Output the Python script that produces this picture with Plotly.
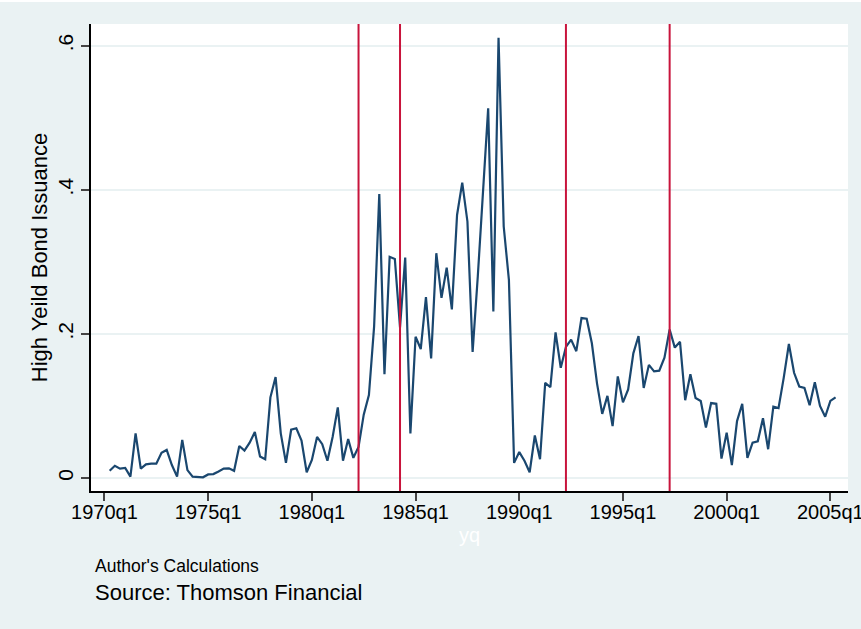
import plotly.graph_objects as go

# High-yield bond issuance share, quarterly, 1970q2 - 2005q2
start_quarter = "1970q2"
issuance = [
    0.010, 0.017, 0.013, 0.014, 0.002, 0.062, 0.013, 0.019, 0.020, 0.020,
    0.035, 0.039, 0.018, 0.002, 0.053, 0.011, 0.002, 0.0015, 0.001, 0.005,
    0.0055, 0.009, 0.013, 0.0135, 0.010, 0.0445, 0.038, 0.049, 0.064, 0.030,
    0.026, 0.112, 0.140, 0.062, 0.021, 0.067, 0.069, 0.052, 0.008, 0.025,
    0.057, 0.047, 0.024, 0.057, 0.098, 0.024, 0.054, 0.028, 0.043, 0.088,
    0.115, 0.210, 0.394, 0.144, 0.307, 0.304, 0.209, 0.306, 0.062, 0.196,
    0.179, 0.251, 0.166, 0.312, 0.250, 0.292, 0.234, 0.365, 0.410, 0.356,
    0.175, 0.280, 0.400, 0.513, 0.231, 0.611, 0.349, 0.275, 0.021, 0.036,
    0.024, 0.008, 0.059, 0.026, 0.132, 0.126, 0.202, 0.153, 0.182, 0.192,
    0.176, 0.222, 0.221, 0.187, 0.131, 0.089, 0.114, 0.072, 0.141, 0.105,
    0.123, 0.173, 0.197, 0.125, 0.157, 0.148, 0.149, 0.167, 0.206, 0.181,
    0.189, 0.108, 0.144, 0.111, 0.107, 0.070, 0.104, 0.103, 0.027, 0.063,
    0.018, 0.079, 0.103, 0.028, 0.049, 0.051, 0.083, 0.040, 0.099, 0.097,
    0.139, 0.186, 0.146, 0.127, 0.125, 0.101, 0.133, 0.100, 0.085, 0.107,
    0.112,
]

# Marked quarters (vertical reference lines)
event_quarters = ["1982q2", "1984q2", "1992q2", "1997q2"]

x_tick_labels = ["1970q1", "1975q1", "1980q1", "1985q1",
                 "1990q1", "1995q1", "2000q1", "2005q1"]
y_tick_values = [0, 0.2, 0.4, 0.6]
y_tick_labels = ["0", ".2", ".4", ".6"]


def quarter_index(label):
    """Quarters elapsed since 1960q1."""
    year, q = label.split("q")
    return (int(year) - 1960) * 4 + int(q) - 1


x0 = quarter_index(start_quarter)
x_vals = [x0 + i for i in range(len(issuance))]

NAVY = "#1A476F"
CRIMSON = "#C8143C"
BG = "#EAF2F3"
FONT = "Liberation Sans, Arial, sans-serif"

fig = go.Figure()
fig.add_trace(go.Scatter(
    x=x_vals, y=issuance, mode="lines",
    line=dict(color=NAVY, width=2.2),
    hoverinfo="skip", showlegend=False,
))

for q in event_quarters:
    fig.add_shape(type="line", xref="x", yref="paper",
                  x0=quarter_index(q), x1=quarter_index(q), y0=0, y1=1,
                  line=dict(color=CRIMSON, width=2), layer="above")

# thin white strip across the top edge
fig.add_shape(type="rect", xref="paper", yref="paper",
              x0=-0.2, x1=1.1, y0=1 + 22 / 467, y1=1.1,
              line=dict(width=0), fillcolor="white", layer="below")

fig.update_layout(
    width=861, height=629,
    margin=dict(l=91, r=13, t=24, b=138, autoexpand=False),
    paper_bgcolor=BG, plot_bgcolor="white",
    font=dict(family=FONT, color="black"),
    showlegend=False,
    xaxis=dict(
        range=[37.4, 183.4],
        automargin=False,
        tickvals=[quarter_index(t) for t in x_tick_labels],
        ticktext=x_tick_labels,
        tickfont=dict(size=20, color="black"),
        ticklabeloverflow="allow",
        ticklabelstandoff=-6,
        ticks="outside", ticklen=8, tickwidth=1.5, tickcolor="#444",
        showline=True, linecolor="black", linewidth=1.5,
        showgrid=False, zeroline=False,
        title=dict(text="yq", font=dict(size=20, color="white"), standoff=6),
    ),
    yaxis=dict(
        range=[-0.018, 0.630],
        automargin=False,
        tickvals=y_tick_values,
        ticktext=y_tick_labels,
        tickangle=-90,
        tickfont=dict(size=21, color="black"),
        ticks="outside", ticklen=8, tickwidth=1.5, tickcolor="#444",
        showline=True, linecolor="black", linewidth=1.5,
        showgrid=True, gridcolor=BG, gridwidth=1.5, zeroline=False,
        title=dict(text="High Yeild Bond Issuance",
                   font=dict(size=22, color="black"), standoff=0),
    ),
    annotations=[
        dict(text="Author's Calculations", xref="paper", yref="paper",
             x=2 / 757, y=-(566 - 491) / 467, xanchor="left", yanchor="middle",
             showarrow=False, font=dict(size=17.5, color="black")),
        dict(text="Source: Thomson Financial", xref="paper", yref="paper",
             x=2 / 757, y=-(592 - 491) / 467, xanchor="left", yanchor="middle",
             showarrow=False, font=dict(size=22, color="black")),
    ],
)

fig.write_html("out.html")
